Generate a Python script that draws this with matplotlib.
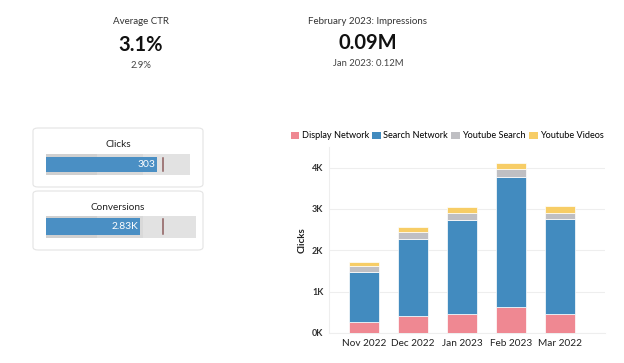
import matplotlib
matplotlib.use("Agg")
import matplotlib.pyplot as plt
from matplotlib.patches import FancyBboxPatch, Patch
from matplotlib.ticker import FuncFormatter

plt.rcParams['font.family'] = ['Lato', 'DejaVu Sans']

# ---- data ----
months = ["Nov 2022", "Dec 2022", "Jan 2023", "Feb 2023", "Mar 2022"]
series_names = ["Display Network", "Search Network", "Youtube Search", "Youtube Videos"]
display_network = [260, 410, 470, 640, 470]
search_network = [1210, 1860, 2260, 3140, 2290]
youtube_search = [160, 180, 170, 180, 150]
youtube_videos = [80, 110, 160, 160, 160]
series_colors = ["#ef8892", "#428bbf", "#bfbfc3", "#f7cd66"]

kpi_ctr_title = "Average CTR"
kpi_ctr_value = "3.1%"
kpi_ctr_prev = "2.9%"
kpi_imp_title = "February 2023: Impressions"
kpi_imp_value = "0.09M"
kpi_imp_prev = "Jan 2023: 0.12M"

clicks_value = 303
clicks_target = 320
clicks_ranges = [140, 265, 393]
clicks_label = "303"
conv_value = 2830
conv_target = 3520
conv_ranges = [1530, 2920, 4520]
conv_label = "2.83K"

W, H = 624, 363
fig = plt.figure(figsize=(W / 100, H / 100), dpi=100)
fig.patch.set_facecolor("white")

def fx(px):
    return px / W

def fy(py):
    return 1 - py / H

def card(x0, y0, x1, y1, ec="#e4e4e4"):
    p = FancyBboxPatch((fx(x0), fy(y1)), fx(x1) - fx(x0), fy(y0) - fy(y1),
                       boxstyle="round,pad=0,rounding_size=0.008",
                       transform=fig.transFigure, facecolor="white",
                       edgecolor=ec, linewidth=0.8, zorder=-5)
    fig.patches.append(p)

# KPI texts
fig.text(fx(141), fy(22), kpi_ctr_title, ha="center", va="center", fontsize=7, color="#333333")
fig.text(fx(141), fy(45), kpi_ctr_value, ha="center", va="center", fontsize=14.5, fontweight="bold", color="#111111")
fig.text(fx(141), fy(65), kpi_ctr_prev, ha="center", va="center", fontsize=6.8, color="#444444")
fig.text(fx(368), fy(22), kpi_imp_title, ha="center", va="center", fontsize=7, color="#333333")
fig.text(fx(368), fy(43), kpi_imp_value, ha="center", va="center", fontsize=14.5, fontweight="bold", color="#111111")
fig.text(fx(368), fy(63), kpi_imp_prev, ha="center", va="center", fontsize=6.8, color="#444444")

# bullet cards
card(33, 128, 203, 187)
card(33, 191, 203, 250)
fig.text(fx(118), fy(145), "Clicks", ha="center", va="center", fontsize=7.2, color="#222222")
fig.text(fx(118), fy(207), "Conversions", ha="center", va="center", fontsize=7.2, color="#222222")

def bullet(rect, value, target, ranges, label):
    ax = fig.add_axes(rect, zorder=3)
    range_cols = ["#d0d0d0", "#d9d9d9", "#e2e2e2"]
    for r, c in zip(reversed(ranges), reversed(range_cols)):
        ax.barh(0, r, height=1.0, color=c, edgecolor="none")
    ax.barh(0, value, height=0.75, color="#4a8fc4", edgecolor="none")
    ax.plot([target, target], [-0.33, 0.33], color="#8e5e5e", linewidth=1.1)
    ax.text(value * 0.985, 0, label, ha="right", va="center", color="white", fontsize=7.4)
    ax.set_xlim(0, ranges[-1])
    ax.set_ylim(-0.5, 0.5)
    ax.axis("off")
    return ax

bullet([fx(46), fy(175), fx(190) - fx(46), fy(154) - fy(175)],
       clicks_value, clicks_target, clicks_ranges, clicks_label)
bullet([fx(46), fy(237.7), fx(196) - fx(46), fy(215.7) - fy(237.7)],
       conv_value, conv_target, conv_ranges, conv_label)

# stacked bar chart
ax = fig.add_axes([fx(329), fy(333), fx(605) - fx(329), fy(147) - fy(333)], zorder=3)
x = list(range(len(months)))
bottom = [0] * len(months)
all_series = [display_network, search_network, youtube_search, youtube_videos]
for vals, name, col in zip(all_series, series_names, series_colors):
    ax.bar(x, vals, width=0.61, bottom=bottom, color=col, edgecolor="white",
           linewidth=0.5, label=name, zorder=3)
    bottom = [b + v for b, v in zip(bottom, vals)]

ax.set_xlim(-0.71, 4.92)
ax.set_ylim(0, 4500)
ax.set_yticks([0, 1000, 2000, 3000, 4000])
ax.yaxis.set_major_formatter(FuncFormatter(lambda v, p: f"{int(v/1000)}K"))
ax.set_xticks(x)
ax.set_xticklabels(months, fontsize=7.2, color="#222222")
ax.tick_params(axis="y", labelsize=6.5, colors="#333333", length=0, pad=4)
ax.tick_params(axis="x", length=0, pad=4)
for lab in ax.get_yticklabels():
    lab.set_fontweight("bold")
ax.grid(axis="y", color="#eeeeee", linewidth=0.8, zorder=0)
for s in ["top", "right"]:
    ax.spines[s].set_visible(False)
ax.spines["left"].set_color("#eeeeee")
ax.spines["bottom"].set_color("#eeeeee")
ax.set_ylabel("Clicks", fontsize=7, fontweight="bold", color="#222222", labelpad=4)

handles = [Patch(facecolor=c, edgecolor="none") for c in series_colors]
fig.legend(handles, series_names, loc="center left", bbox_to_anchor=(fx(291), fy(136)),
           ncol=4, frameon=False, fontsize=6.6, handlelength=0.9, handleheight=0.9,
           handletextpad=0.3, columnspacing=0.35, borderaxespad=0, borderpad=0)

fig.savefig("out.png", dpi=100, facecolor="white")
